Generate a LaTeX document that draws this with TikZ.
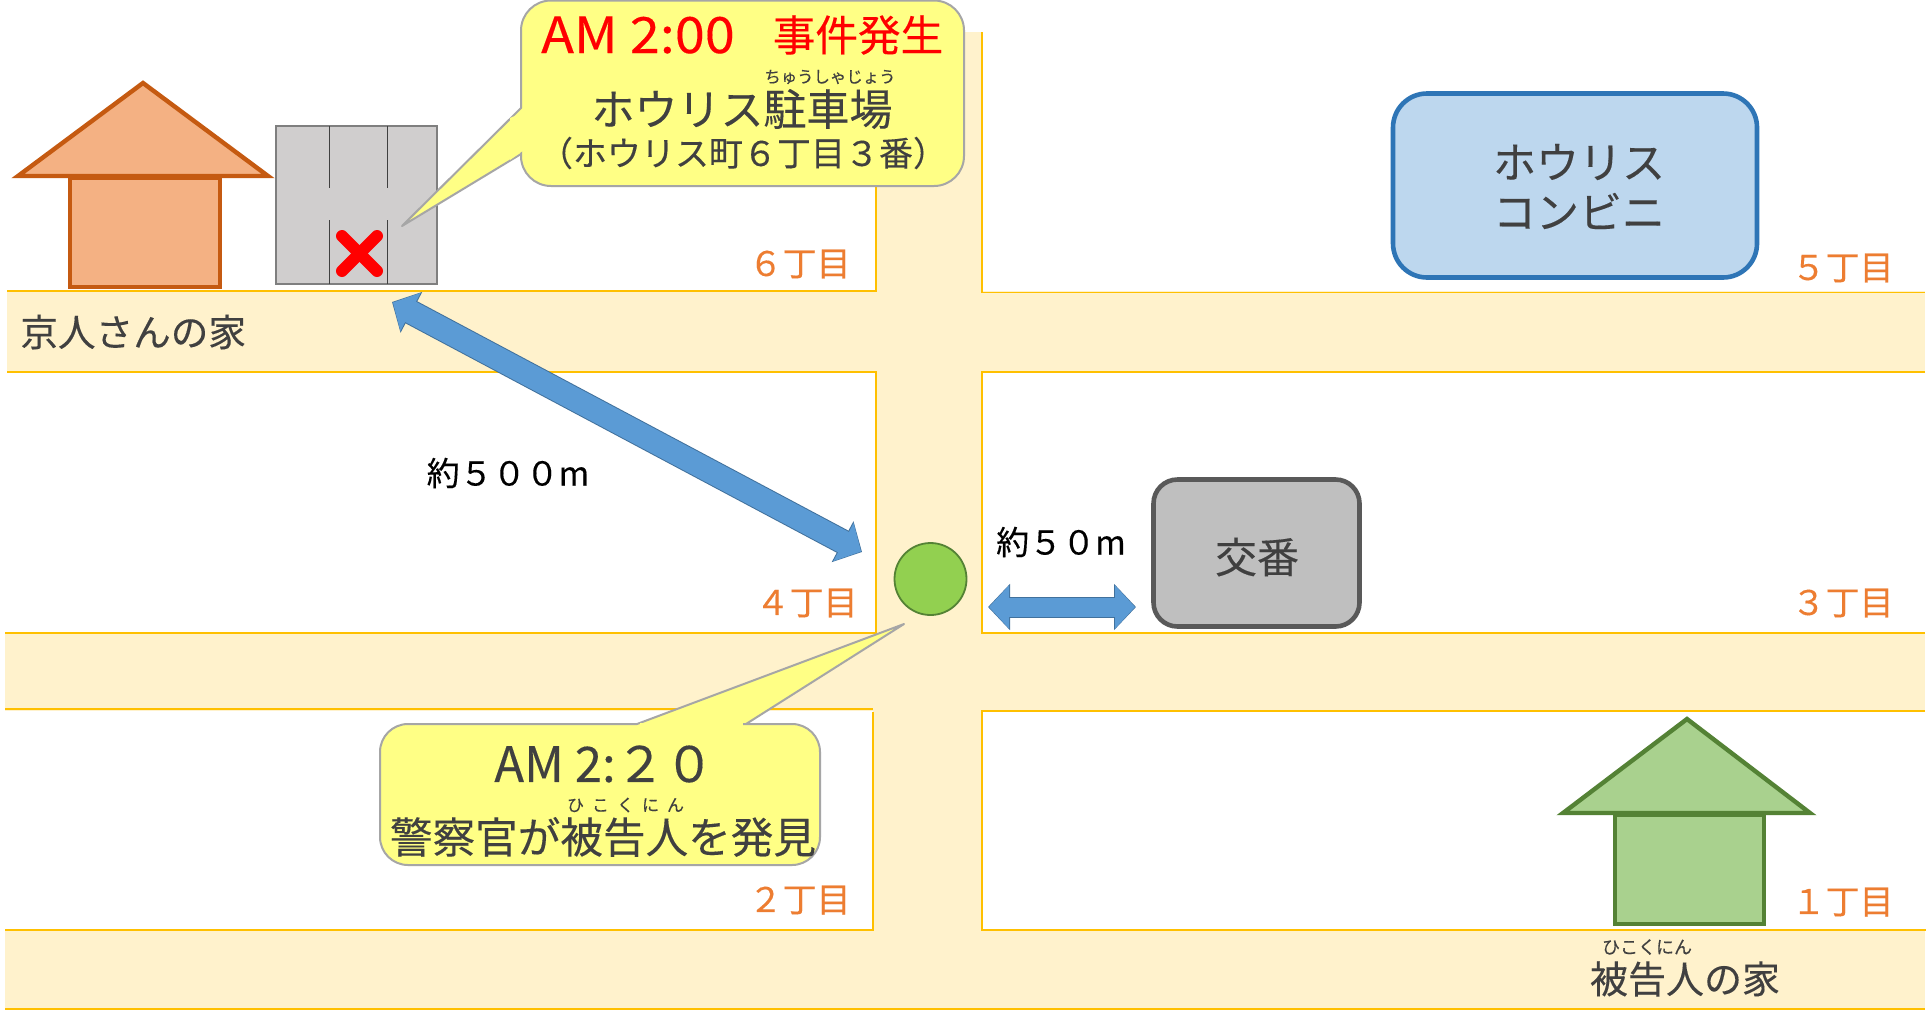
\documentclass[tikz,border=0pt]{standalone}
\usepackage{fontspec}
\usetikzlibrary{arrows.meta}
\setmainfont[FakeBold=0.25]{Noto Sans CJK JP}
\definecolor{roadfill}{HTML}{FFF2CC}
\definecolor{roadline}{HTML}{FFC000}
\definecolor{txtgray}{HTML}{404040}
\definecolor{chome}{HTML}{ED7D31}
\definecolor{calloutfill}{HTML}{FFFF85}
\definecolor{calloutline}{HTML}{A6A6A6}
\definecolor{arrowfill}{HTML}{5B9BD5}
\definecolor{arrowline}{HTML}{41719C}
\newcommand{\fsz}[1]{\fontsize{#1}{#1}\selectfont}
\tikzset{
  x=0.5pt,y=-0.5pt,
  roadedge/.style={draw=roadline,line width=0.7pt},
  housebody/.style={line width=2.2pt,line join=miter},
  lbl/.style={inner sep=0pt,text=txtgray,anchor=center},
  chomelbl/.style={inner sep=0pt,text=chome,anchor=east,font=\fsz{17}},
  ruby/.style={inner sep=0pt,text=txtgray,anchor=center,font=\fsz{8.2}},
  callout/.style={fill=calloutfill,draw=calloutline,line width=1pt,line join=round},
  dimlbl/.style={inner sep=0pt,text=black,anchor=center,font=\fsz{16.5}},
  arrowunder/.style={draw=arrowline,line width=12.5pt,{Triangle[length=11pt,width=22.5pt]}-{Triangle[length=11pt,width=22.5pt]}},
  arrowover/.style={draw=arrowfill,line width=11.5pt,{Triangle[length=10pt,width=21pt]}-{Triangle[length=10pt,width=21pt]},shorten <=0.5pt,shorten >=0.5pt},
}
\begin{document}
\begin{tikzpicture}
\fill[white] (0,0) rectangle (1926,1013);
\useasboundingbox (0,0) rectangle (1926,1013);
% roads
\fill[roadfill] (7,291) rectangle (1925,372);
\fill[roadfill] (5,633) rectangle (1925,711);
\fill[roadfill] (5,930) rectangle (1925,1010);
\fill[roadfill] (876,32) rectangle (982,1010);
\fill[roadfill] (873,711) rectangle (876,930);
\draw[roadedge] (7,291) -- (876,291) -- (876,32);
\draw[roadedge] (982,32) -- (982,292.5) -- (1925,292.5);
\draw[roadedge] (7,372) -- (876,372) -- (876,633) -- (5,633);
\draw[roadedge] (1925,372) -- (982,372) -- (982,633) -- (1925,633);
\draw[roadedge] (5,709) -- (873,709);
\draw[roadedge] (873,712) -- (873,930) -- (5,930);
\draw[roadedge] (1925,711) -- (982,711) -- (982,930) -- (1926,930);
\draw[roadedge] (5,1009) -- (1925,1009);
% orange house
\draw[housebody,fill={rgb,255:red,244;green,177;blue,131},draw={rgb,255:red,197;green,90;blue,17}] (70,178) rectangle (220,287);
\draw[housebody,fill={rgb,255:red,244;green,177;blue,131},draw={rgb,255:red,197;green,90;blue,17}] (143,83) -- (268,176) -- (18,176) -- cycle;
% parking
\draw[fill={rgb,255:red,208;green,206;blue,206},draw={rgb,255:red,127;green,127;blue,127},line width=1pt] (276,126) rectangle (437,284);
\foreach \xx in {329,387}{
  \draw[line width=0.5pt,draw=txtgray] (\xx,126) -- (\xx,188);
  \draw[line width=0.5pt,draw=txtgray] (\xx,220) -- (\xx,284);
}
\draw[red,line width=6pt,line cap=round] (342,236) -- (377,271);
\draw[red,line width=6pt,line cap=round] (377,236) -- (342,271);
% green house
\draw[housebody,fill={rgb,255:red,169;green,209;blue,142},draw={rgb,255:red,84;green,130;blue,53}] (1615,815) rectangle (1764,924);
\draw[housebody,fill={rgb,255:red,169;green,209;blue,142},draw={rgb,255:red,84;green,130;blue,53}] (1687,719) -- (1810,813) -- (1563,813) -- cycle;
% boxes
\node[draw={rgb,255:red,46;green,117;blue,182},fill={rgb,255:red,189;green,215;blue,238},line width=2.3pt,rounded corners=17pt,minimum width=182pt,minimum height=92pt,inner sep=0pt] (conv) at (1575,185.5) {};
\node[lbl,font=\fsz{21.5}] (convA) at (1579,162) {ホウリス};
\node[lbl,font=\fsz{21.5}] (convB) at (1579,211) {コンビニ};
\node[draw={rgb,255:red,89;green,89;blue,89},fill={rgb,255:red,191;green,191;blue,191},line width=2.3pt,rounded corners=12pt,minimum width=103pt,minimum height=73.5pt,inner sep=0pt] (koban) at (1256.5,553) {};
\node[lbl,font=\fsz{21}] (kobanT) at (1257,557) {交番};
% dot
\node[circle,draw={rgb,255:red,84;green,130;blue,53},fill={rgb,255:red,146;green,208;blue,80},line width=0.9pt,minimum size=36pt,inner sep=0pt] (dot) at (930.5,579) {};
% arrows
\coordinate (a1s) at (392,302);
\coordinate (a1e) at (862,552);
\coordinate (a2s) at (988,607);
\coordinate (a2e) at (1136,607);
\draw[arrowunder] (a1s) -- (a1e);
\draw[arrowover] (a1s) -- (a1e);
\draw[arrowunder,line width=10.5pt] (a2s) -- (a2e);
\draw[arrowover,line width=9.5pt] (a2s) -- (a2e);
% callout 1
\draw[callout,rounded corners=15pt] (521,108) -- (521,0.5) -- (964,0.5) -- (964,186) -- (521,186) -- (521,130) [sharp corners] -- (521,154) -- (402,226) -- (521,108) -- cycle;
\fill[calloutfill] (524,112) -- (524,150) -- (510,160) -- (510,118) -- cycle;
% callout 2
\draw[callout,rounded corners=14pt] (700,724) -- (820,724) -- (820,865) -- (380,865) -- (380,724) -- (600,724) [sharp corners] -- (637,724) -- (904,624) -- (746,724) -- cycle;
\fill[calloutfill] (640,722.5) -- (743,722.5) -- (743,726) -- (640,726) -- cycle;
% callout texts
\node[inner sep=0pt,text=red,anchor=center,font={\fsz{25}\addfontfeatures{FakeStretch=1.08}}] (t1a) at (638,35) {AM 2:00};
\node[inner sep=0pt,text=red,anchor=center,font=\fsz{21.3}] (t1b) at (858,35) {事件発生};
\node[ruby] (r1) at (830,77) {ちゅうしゃじょう};
\node[lbl,font=\fsz{21.5}] (t1c) at (742,109) {ホウリス駐車場};
\node[lbl,font=\fsz{17}] (t1d) at (743,153) {（ホウリス町６丁目３番）};
\node[lbl,font=\fsz{24.5}] (t2a) at (604,764) {AM 2:２０};
\node[ruby,font=\fsz{8.5}] (r2) at (625.5,805) {ひ\hspace{4pt}こ\hspace{4pt}く\hspace{4pt}に\hspace{4pt}ん};
\node[lbl,font=\fsz{21.3}] (t2b) at (603,837) {警察官が被告人を発見};
% other labels
\node[lbl,anchor=west,font=\fsz{18.8}] (kyo) at (20,332) {京人さんの家};
\node[lbl,font=\fsz{19}] (hik) at (1685,979) {被告人の家};
\node[ruby,font=\fsz{9}] (r3) at (1647,947) {ひこくにん};
\node[dimlbl] (d500) at (508,473) {約５００m};
\node[dimlbl] (d50) at (1061,542) {約５０m};
\node[chomelbl] (c6) at (851,264) {６丁目};
\node[chomelbl] (c5) at (1894,268) {５丁目};
\node[chomelbl] (c4) at (858,603) {４丁目};
\node[chomelbl] (c3) at (1894,603) {３丁目};
\node[chomelbl] (c2) at (851,900) {２丁目};
\node[chomelbl] (c1) at (1894,902) {１丁目};
\end{tikzpicture}
\end{document}
